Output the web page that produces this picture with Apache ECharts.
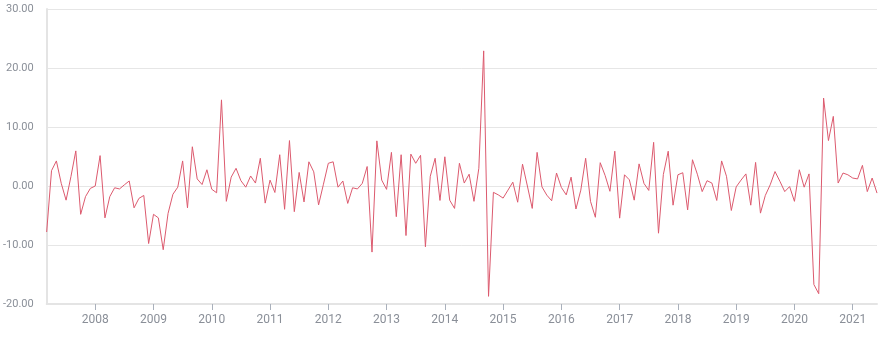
<!DOCTYPE html>
<html>
<head>
<meta charset="utf-8">
<script src="https://cdn.jsdelivr.net/npm/echarts@6/dist/echarts.min.js"></script>
<style>
  html, body { margin: 0; padding: 0; background: #ffffff; }
  #chart { width: 883px; height: 352px; }
</style>
</head>
<body>
<div id="chart"></div>
<script>
// Monthly series, March 2007 .. June 2021
const startYear = 2007;
const startMonth = 3;
const values = [
  -7.8, 2.6, 4.25, 0.45, -2.4, 1.6, 5.95, -4.8, -1.8, -0.4,
  0.0, 5.15, -5.4, -1.8, -0.3, -0.5, 0.2, 0.85, -3.7, -2.1,
  -1.6, -9.75, -4.8, -5.4, -10.8, -4.65, -1.4, -0.2, 4.25, -3.7,
  6.65, 1.2, 0.25, 2.75, -0.55, -1.15, 14.6, -2.6, 1.5, 3.0,
  0.9, -0.2, 1.7, 0.5, 4.7, -2.9, 1.0, -1.1, 5.3, -3.95,
  7.7, -4.35, 2.3, -2.7, 4.1, 2.4, -3.2, 0.3, 3.85, 4.1,
  -0.2, 0.85, -2.95, -0.3, -0.5, 0.45, 3.3, -11.2, 7.65, 1.0,
  -0.57, 5.7, -5.2, 5.3, -8.4, 5.4, 3.85, 5.2, -10.3, 1.65,
  4.7, -2.45, 4.95, -2.4, -3.8, 3.85, 0.5, 2.0, -2.6, 3.0,
  22.9, -18.7, -1.07, -1.5, -2.05, -0.7, 0.65, -2.75, 3.7, 0.0,
  -3.8, 5.7, -0.15, -1.55, -2.5, 2.2, -0.25, -1.5, 1.5, -3.9,
  -0.7, 4.7, -2.6, -5.3, 3.95, 1.8, -0.9, 5.9, -5.45, 1.9,
  1.05, -2.4, 3.75, 0.45, -0.75, 7.4, -8.0, 1.95, 5.9, -3.25,
  1.9, 2.25, -4.05, 4.45, 2.0, -0.95, 0.9, 0.5, -2.45, 4.25,
  1.65, -4.15, -0.15, 1.0, 2.05, -3.25, 4.0, -4.6, -1.6, 0.2,
  2.45, 0.8, -0.95, -0.1, -2.6, 2.75, -0.2, 2.05, -16.7, -18.25,
  14.9, 7.7, 11.8, 0.5, 2.2, 1.9, 1.35, 1.2, 3.5, -0.95,
  1.35, -1.2
];
const yearLabels = ['2008','2009','2010','2011','2012','2013','2014','2015','2016','2017','2018','2019','2020','2021'];
const yMin = -20, yMax = 30, yStep = 10;

const categories = [];
for (let k = 0; k < values.length; k++) {
  const m0 = startMonth - 1 + k;
  const y = startYear + Math.floor(m0 / 12);
  const m = (m0 % 12) + 1;
  categories.push(y + '-' + (m < 10 ? '0' + m : '' + m));
}
const isYearStart = (idx) => {
  const c = categories[idx];
  return c.endsWith('-01') && yearLabels.indexOf(c.slice(0, 4)) >= 0;
};

const chart = echarts.init(document.getElementById('chart'), null, { renderer: 'canvas' });
chart.setOption({
  animation: false,
  backgroundColor: '#ffffff',
  grid: { left: 45, right: 6, top: 9, bottom: 48, containLabel: false },
  xAxis: {
    type: 'category',
    data: categories,
    boundaryGap: false,
    axisLine: { show: true, onZero: false, lineStyle: { color: '#e4e4e4', width: 2 } },
    axisTick: {
      show: true,
      length: 6,
      interval: (idx) => isYearStart(idx),
      lineStyle: { color: '#a9b0bb', width: 1 }
    },
    axisLabel: {
      interval: (idx) => isYearStart(idx),
      formatter: (v) => v.slice(0, 4),
      color: '#8a8f98',
      fontSize: 12,
      fontFamily: 'Roboto, "Noto Sans", sans-serif',
      margin: 10
    },
    splitLine: { show: false }
  },
  yAxis: {
    type: 'value',
    min: yMin,
    max: yMax,
    interval: yStep,
    axisLine: { show: true, onZero: false, lineStyle: { color: '#e4e4e4', width: 2 } },
    axisTick: { show: false },
    axisLabel: {
      formatter: (v) => v.toFixed(2),
      color: '#8a8f98',
      fontSize: 11,
      fontFamily: 'Roboto, "Noto Sans", sans-serif',
      margin: 13
    },
    splitLine: { show: true, lineStyle: { color: '#e6e6e6', width: 1 } }
  },
  series: [{
    type: 'line',
    data: values,
    showSymbol: false,
    symbol: 'none',
    lineStyle: { color: '#dc5a6e', width: 1 },
    itemStyle: { color: '#dc5a6e' }
  }]
});
</script>
</body>
</html>
